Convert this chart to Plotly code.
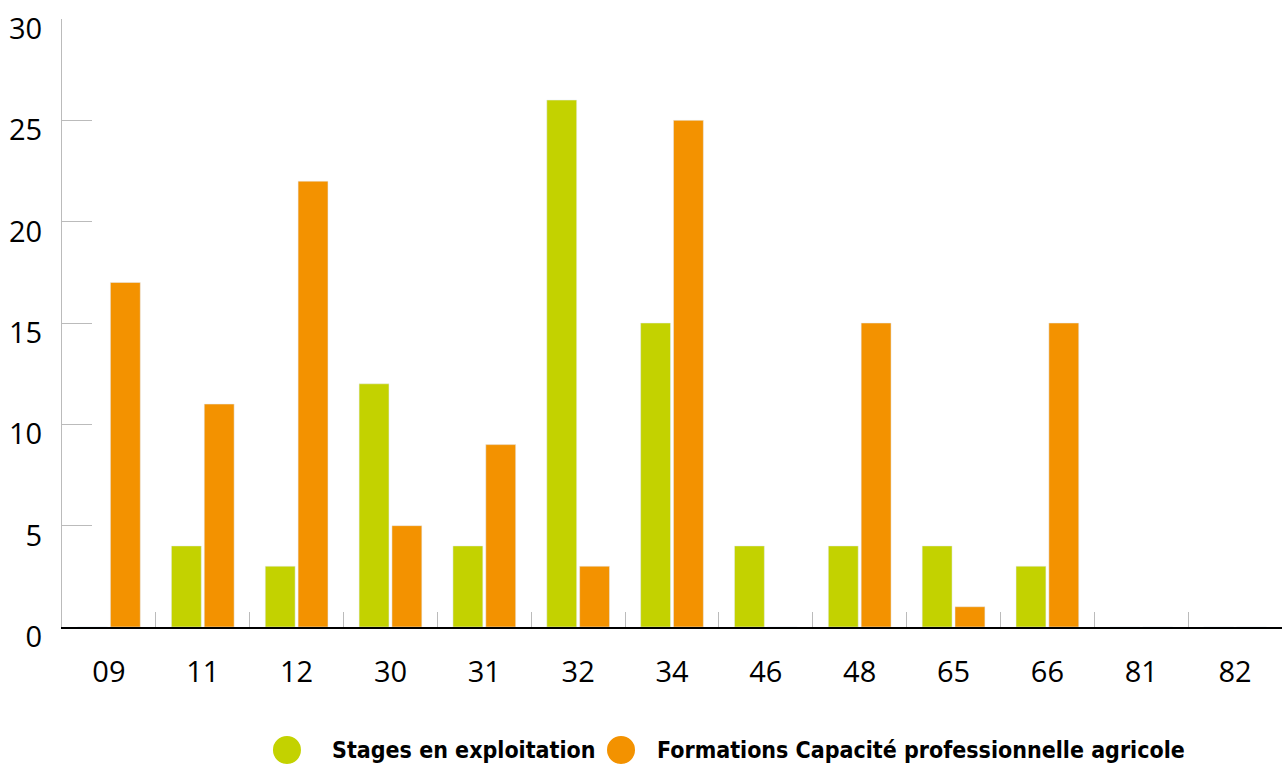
import plotly.graph_objects as go

departements = ["09", "11", "12", "30", "31", "32", "34", "46", "48", "65", "66", "81", "82"]
stages = [0, 4, 3, 12, 4, 26, 15, 4, 4, 4, 3, 0, 0]
formations = [17, 11, 22, 5, 9, 3, 25, 0, 15, 1, 15, 0, 0]

VERT = "#C3D200"
ORANGE = "#F39200"
LEGEND_FONT = dict(family="DejaVu Sans Condensed, Liberation Sans Narrow, sans-serif", size=23, color="#000000")

fig = go.Figure()
fig.add_trace(go.Bar(x=departements, y=stages, name="Stages en exploitation",
                     marker=dict(color=VERT), showlegend=False))
fig.add_trace(go.Bar(x=departements, y=formations, name="Formations Capacité professionnelle agricole",
                     marker=dict(color=ORANGE), showlegend=False))

# légende faite à la main (gros ronds)
legend_items = [
    (0.1844, 0.2197, VERT, "Stages en exploitation"),
    (0.4582, 0.4860, ORANGE, "Formations Capacité professionnelle agricole"),
]
for xc, xt, col, label in legend_items:
    fig.add_shape(type="circle", xref="paper", yref="paper",
                  xsizemode="pixel", ysizemode="pixel",
                  xanchor=xc, yanchor=-0.2023,
                  x0=-14, x1=14, y0=-14, y1=14,
                  fillcolor=col, line=dict(width=0))
    fig.add_annotation(x=xt, y=-0.2023, xref="paper", yref="paper",
                       text="<b>" + label + "</b>", showarrow=False,
                       xanchor="left", yanchor="middle", font=LEGEND_FONT)

fig.update_layout(
    width=1282, height=767,
    margin=dict(l=62, r=0, t=19, b=140, autoexpand=False),
    paper_bgcolor="white", plot_bgcolor="white",
    barmode="group", bargap=0.30, bargroupgap=0.09,
    font=dict(family="Open Sans, sans-serif", size=29, color="#000000"),
    showlegend=False,
)
fig.update_xaxes(
    type="category", showgrid=False, zeroline=False, automargin=False,
    showline=True, linecolor="#000000", linewidth=2,
    ticks="inside", ticklen=15, tickcolor="#BBBBBB", tickwidth=1,
    tickson="boundaries", ticklabelstandoff=18,
)
fig.update_yaxes(
    range=[0, 30], tickvals=[0, 5, 10, 15, 20, 25, 30],
    showgrid=False, zeroline=False, automargin=False,
    showline=True, linecolor="#BBBBBB", linewidth=1,
    ticks="inside", ticklen=30, tickcolor="#BBBBBB", tickwidth=1,
    ticklabelstandoff=13, ticklabelshift=10,
)

# pas de marge du body pour que la figure colle au coin de la page
fig.write_html("out.html", config={"displayModeBar": False},
               post_script="document.body.style.margin='0';")
